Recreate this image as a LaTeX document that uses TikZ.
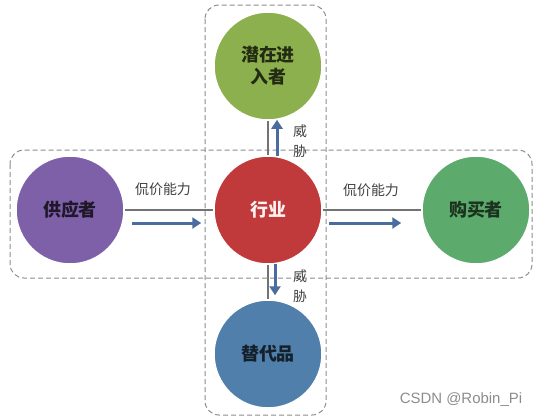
\documentclass[tikz,border=0pt]{standalone}
\usepackage{fontspec}
\newfontfamily\cjk{Noto Sans CJK SC}
\setsansfont{Liberation Sans}
\usetikzlibrary{arrows.meta,calc}
\definecolor{supcol}{HTML}{7E60A8}
\definecolor{indcol}{HTML}{C0393B}
\definecolor{entcol}{HTML}{8DB04E}
\definecolor{buycol}{HTML}{5CAA6C}
\definecolor{subcol}{HTML}{4F7FAA}
\definecolor{arrowblue}{HTML}{4A6C9E}
\tikzset{
  force/.style = {circle, draw=white, line width=1.5bp, minimum size=108bp, inner sep=0pt,
                  align=center, font=\cjk\bfseries\fontsize{18}{22}\selectfont},
  zone/.style  = {draw=black!45, dashed, dash pattern=on 5bp off 3bp, rounded corners=14bp, line width=1bp},
  flow/.style  = {draw=black!55, line width=1.2bp},
  edge/.style  = {-{Triangle[length=9bp, width=11bp]}, line width=3bp, draw=arrowblue},
  lab/.style   = {font=\cjk\fontsize{14}{20}\selectfont, text=black!75, align=center, inner sep=1pt},
  watermark/.style = {font=\sffamily\fontsize{15}{18}\selectfont, text=black!45, inner sep=0pt},
}

\begin{document}
\begin{tikzpicture}[x=1bp, y=-1bp]
  \useasboundingbox (0,0) rectangle (540,418);

  % dashed groups
  \draw[zone] (205,5) rectangle (326,415);
  \draw[zone] (10,150) rectangle (532,278);

  % forces
  \node[force, fill=indcol, text=red!5]      (ind) at (268,210) {行业};
  \node[force, fill=supcol, text=supcol!25!black] (sup) at (70,210)  {供应者};
  \node[force, fill=buycol, text=buycol!30!black] (buy) at (476,210) {购买者};
  \node[force, fill=entcol, text=entcol!25!black] (ent) at (268,66)  {潜在进\\入者};
  \node[force, fill=subcol, text=subcol!25!black] (sub) at (268,354) {替代品};

  % plain links
  \draw[flow] (sup.east)  -- (ind.west);
  \draw[flow] (ind.east)  -- (buy.west);
  \draw[flow] (ind.north) -- (ent.south);
  \draw[flow] (ind.south) -- (sub.north);

  % edges
  \draw[edge] ([xshift=7bp, yshift=-13bp]sup.east) -- ([xshift=-12bp, yshift=-13bp]ind.west);
  \draw[edge] ([xshift=6bp, yshift=-13bp]ind.east) -- ([xshift=-20bp, yshift=-13bp]buy.west);
  \draw[edge] ([xshift=9bp, yshift=-1bp]ind.north) -- ([xshift=9bp, yshift=1bp]ent.south);
  \draw[edge] ([xshift=7bp, yshift=1bp]ind.south)  -- ([xshift=7bp, yshift=4bp]sub.north);

  % labels
  \node[lab] (lsup) at (163,189) {侃价能力};
  \node[lab] (lbuy) at (371,190) {侃价能力};
  \node[lab] (lent) at (300,141) {威\\胁};
  \node[lab] (lsub) at (300,286) {威\\胁};

  \node[watermark] (wm) at (461,400) {CSDN @Robin\_Pi};

\end{tikzpicture}
\end{document}
